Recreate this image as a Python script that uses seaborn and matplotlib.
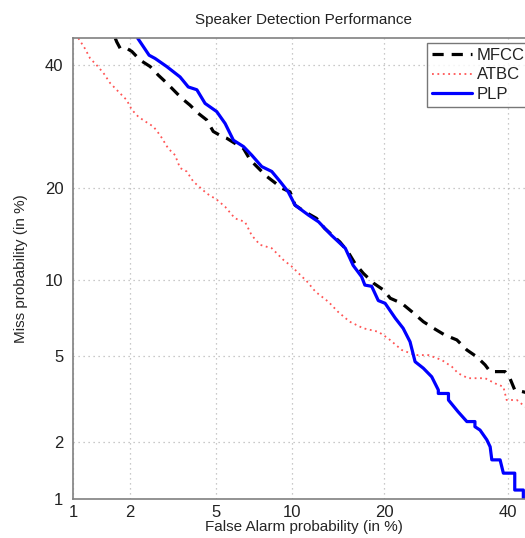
import numpy as np
import matplotlib
matplotlib.use("Agg")
import matplotlib.pyplot as plt
import seaborn as sns
from statistics import NormalDist

# DET curves, values in percent (false alarm, miss)
mfcc_fa = [1.68, 1.71, 1.78, 1.92, 2.04, 2.24, 2.51, 2.75, 3.01, 3.23, 3.53, 3.85, 4.19,
           4.56, 4.87, 5.3, 5.56, 6.01, 6.51, 6.92, 7.45, 8.04, 8.52, 9.16, 9.83, 10.25,
           11.1, 12.2, 13.0, 14.6, 15.5, 16.3, 17.3, 18.6, 19.9, 20.8, 22.4, 23.9, 25.6,
           27.2, 29.0, 31.0, 32.7, 34.4, 35.9, 36.8, 39.5, 40.4, 41.3, 42.9, 44.5]
mfcc_miss = [45.0, 44.3, 43.1, 43.1, 42.5, 40.9, 39.7, 38.1, 36.7, 35.5, 34.0, 32.8, 31.4,
             30.3, 28.4, 27.6, 27.3, 26.5, 25.7, 24.0, 22.8, 21.6, 20.9, 20.0, 19.5, 17.8,
             17.0, 16.2, 15.06, 13.6, 12.6, 11.5, 10.6, 9.75, 9.2, 8.57, 8.2, 7.6, 6.95,
             6.54, 6.14, 5.86, 5.32, 4.98, 4.59, 4.29, 4.29, 4.01, 3.55, 3.48, 3.4]

atbc_fa = [1.07, 1.16, 1.24, 1.34, 1.46, 1.58, 1.74, 1.92, 2.04, 2.20, 2.46, 2.60, 2.80,
           3.06, 3.29, 3.47, 3.72, 3.98, 4.41, 4.56, 5.04, 5.47, 6.01, 6.6, 7.02, 7.57,
           8.40, 9.3, 9.97, 10.7, 11.3, 12.1, 13.4, 14.4, 15.7, 17.3, 19.2, 20.5, 22.4,
           24.35, 26.4, 28.5, 30.2, 31.2, 32.9, 35.9, 37.7, 39.2, 39.8, 41.7, 43.2, 44.5]
atbc_miss = [45.0, 43.1, 41.2, 40.0, 38.5, 36.7, 35.2, 33.7, 32.0, 30.8, 29.7, 29.2, 27.8,
             25.7, 24.7, 22.8, 22.3, 20.9, 19.7, 19.3, 18.5, 17.6, 16.2, 15.8, 14.3, 13.3,
             12.95, 11.8, 11.2, 10.45, 9.9, 9.07, 8.3, 7.6, 6.95, 6.54, 6.33, 5.95, 5.32,
             5.06, 5.06, 4.82, 4.5, 4.22, 4.01, 4.01, 3.80, 3.67, 3.19, 3.19, 2.97, 2.9]

plp_fa = [2.18, 2.48, 2.65, 3.01, 3.47, 3.78, 4.13, 4.49, 5.04, 5.47, 5.92, 6.51, 7.02,
          7.69, 8.40, 9.03, 9.68, 10.25, 11.43, 12.4, 13.7, 15.2, 16.1, 17.1, 17.5, 18.35,
          19.2, 20.1, 21.5, 22.6, 23.6, 24.35, 25.6, 26.9, 27.95, 27.95, 29.6, 29.6, 31.2,
          32.7, 34.1, 34.1, 35.0, 36.2, 36.8, 37.1, 38.6, 39.2, 41.3, 41.3, 42.9, 42.9]
plp_miss = [45.0, 41.8, 41.2, 39.7, 37.8, 36.0, 35.5, 33.1, 31.7, 29.7, 27.0, 26.0, 24.7,
            23.0, 22.3, 20.9, 19.5, 17.8, 16.6, 15.8, 14.3, 12.95, 11.3, 10.3, 9.6, 9.5,
            8.4, 8.2, 7.17, 6.54, 5.76, 4.74, 4.44, 4.07, 3.55, 3.42, 3.42, 3.19, 2.81,
            2.52, 2.52, 2.38, 2.29, 2.05, 1.89, 1.62, 1.62, 1.38, 1.38, 1.12, 1.12, 1.0]

tick_vals = [1, 2, 5, 10, 20, 40]
tick_labels = ["1", "2", "5", "10", "20", "40"]

_nd = NormalDist()


def probit(p):
    p = np.clip(np.asarray(p, dtype=float), 1e-9, 100 - 1e-9)
    return np.vectorize(_nd.inv_cdf, otypes=[float])(p / 100.0)


def inv_probit(z):
    z = np.asarray(z, dtype=float)
    return np.vectorize(_nd.cdf, otypes=[float])(z) * 100.0


sns.set_style("white")
plt.rcParams["font.family"] = ["Liberation Sans", "DejaVu Sans"]
plt.rcParams["text.color"] = "#222222"

fig = plt.figure(figsize=(5.25, 5.38), dpi=100)
ax = fig.add_axes([73 / 525, 39 / 538, (534.5 - 73) / 525, (499 - 38.2) / 538])
ax.set_xscale("function", functions=(probit, inv_probit))
ax.set_yscale("function", functions=(probit, inv_probit))

sns.lineplot(x=mfcc_fa, y=mfcc_miss, sort=False, estimator=None, ax=ax,
             color="black", lw=2.3, ls=(0, (3.5, 2.5)), label="MFCC")
sns.lineplot(x=atbc_fa, y=atbc_miss, sort=False, estimator=None, ax=ax,
             color="#ff5555", lw=1.3, ls=(0, (1, 2)), label="ATBC")
sns.lineplot(x=plp_fa, y=plp_miss, sort=False, estimator=None, ax=ax,
             color="#0000ff", lw=2.3, ls="-", label="PLP")

ax.set_xlim(1, 45)
ax.set_ylim(1, 45)
ax.set_xticks(tick_vals)
ax.set_xticklabels(tick_labels)
ax.set_yticks(tick_vals)
ax.set_yticklabels(tick_labels)
ax.minorticks_off()
ax.tick_params(direction="in", length=4, color="#808080", labelsize=12,
               labelcolor="#222222")
ax.tick_params(axis="y", pad=7)
ax.tick_params(axis="x", pad=4)
ax.grid(True, ls=(0, (1, 3)), color="#b8b8b8", lw=0.9)
for sp in ax.spines.values():
    sp.set_color("#808080")
    sp.set_linewidth(1.2)

ax.set_title("Speaker Detection Performance", fontsize=11, pad=10)
ax.set_xlabel("False Alarm probability (in %)", fontsize=11, labelpad=0)
ax.set_ylabel("Miss probability (in %)", fontsize=11, labelpad=12)

leg = ax.legend(loc="upper right", fontsize=12, frameon=True, fancybox=False,
                handlelength=2.4, handletextpad=0.3, borderpad=0.3,
                labelspacing=0.25, borderaxespad=0.3)
leg.get_frame().set_edgecolor("#555555")
leg.get_frame().set_linewidth(1.0)

fig.savefig("out.png", dpi=100)
